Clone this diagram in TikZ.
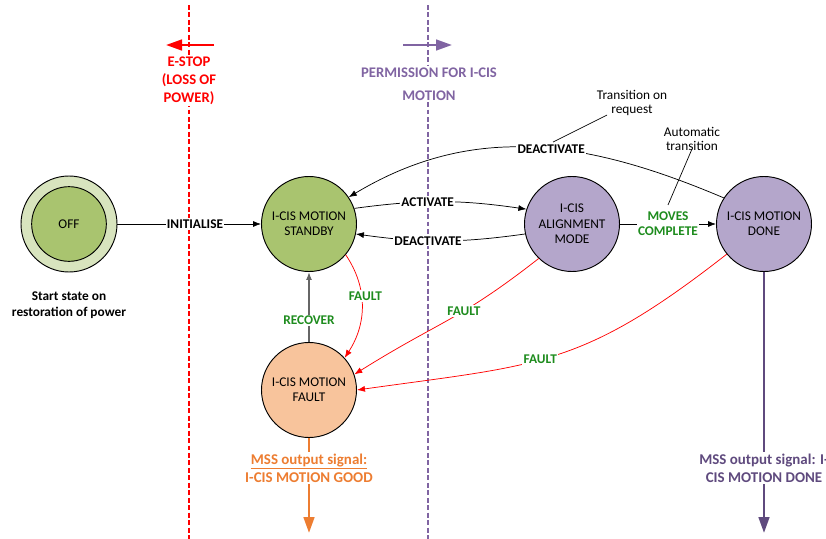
\documentclass[tikz,border=0pt]{standalone}
\usepackage{fontspec}
\setmainfont{Carlito}
\usetikzlibrary{arrows.meta}
\definecolor{gfill}{HTML}{A9C46F}
\definecolor{gouter}{HTML}{D8E4BE}
\definecolor{pfill}{HTML}{B4A6CB}
\definecolor{ofill}{HTML}{F8C49C}
\definecolor{lblgreen}{HTML}{1E8C1E}
\definecolor{purp}{HTML}{8064A2}
\definecolor{dpurp}{HTML}{5F4A7E}
\definecolor{orng}{HTML}{ED7D31}
\definecolor{redc}{HTML}{FF0000}
\begin{document}
\begin{tikzpicture}[x=0.75pt,y=0.75pt,
  state/.style={circle,draw=black,line width=0.7pt,minimum size=71.25pt,inner sep=0pt,align=center,font=\fontsize{10}{11.5}\selectfont},
  lbl/.style={font=\bfseries\fontsize{10}{11}\selectfont,fill=white,inner sep=1pt,align=center},
  glbl/.style={lbl,text=lblgreen},
  arr/.style={-{Latex[length=6pt,width=4.5pt]},line width=0.55pt},
  farr/.style={arr,draw=redc},
  note/.style={font=\fontsize{10}{10.5}\selectfont,align=center,inner sep=0.5pt},
  vdash/.style={line width=2.2pt,dash pattern=on 3.7pt off 1.9pt},
  bigtip/.style={-{Triangle[length=12pt,width=8pt]}},
  biglbl/.style={lbl,font=\bfseries\fontsize{11.2}{13.5}\selectfont}]
\useasboundingbox (0,0) rectangle (826,-539);
% boundary lines
\draw[vdash,redc] (189,-5) -- (189,-539);
\draw[vdash,purp,line width=1.9pt] (428,-5) -- (428,-539);
\draw[bigtip,redc,line width=1.9pt] (214,-45) -- (166,-45);
\draw[bigtip,purp,line width=1.9pt] (403,-45) -- (452,-45);
\node[biglbl,text=redc,font=\bfseries\fontsize{11}{13.5}\selectfont] (estop) at (189,-81) {E-STOP\\(LOSS OF\\POWER)};
\node[biglbl,text=purp,font=\bfseries\fontsize{11}{17}\selectfont] (perm) at (429,-84) {PERMISSION FOR I-CIS\\MOTION};
% states
\node[state,fill=gouter,minimum size=72pt] (offo) at (69,-224) {};
\node[state,fill=gfill,minimum size=56pt] (off) at (69,-224) {OFF};
\node[state,fill=gfill] (sb) at (309,-224) {I-CIS MOTION\\STANDBY};
\node[state,fill=pfill] (al) at (572,-224) {I-CIS\\ALIGNMENT\\MODE};
\node[state,fill=pfill] (do) at (764,-224) {I-CIS MOTION\\DONE};
\node[state,fill=ofill] (fa) at (309,-390) {I-CIS MOTION\\FAULT};
\node[lbl,font=\bfseries\fontsize{10}{12}\selectfont] (st) at (69,-305) {Start state on\\restoration of power};
% transitions
\draw[arr] (offo) -- node[lbl,pos=0.54]{INITIALISE} (sb);
\draw[arr] (sb.19) to[bend left=8] node[lbl,pos=0.42]{ACTIVATE} (al.162);
\draw[arr] (al.192) to[bend left=8] node[lbl,pos=0.58]{DEACTIVATE} (sb.348);
\draw[arr] (do.147) to[out=157,in=31] node[lbl,pos=0.45]{DEACTIVATE} (sb.34);
\draw[arr] (al) -- node[glbl]{MOVES\\COMPLETE} (do);
\draw[arr,draw=black!60,line width=1pt] (fa) -- node[glbl,pos=0.31]{RECOVER} (sb);
\draw[farr] (sb.-40) to[out=-56,in=57] node[glbl,pos=0.4,xshift=3pt]{FAULT} (fa.42);
\draw[farr] (al.226) to[out=218,in=32,looseness=1.2] node[glbl,pos=0.4]{FAULT} (fa.19);
\draw[farr] (do.219) to[out=218,in=8,looseness=1.2] node[glbl,pos=0.55]{FAULT} (fa.east);
% notes
\node[note] (treq) at (632,-103) {Transition on\\request};
\coordinate (treqa) at (607,-115);
\coordinate (treqb) at (553,-142);
\draw[line width=0.5pt] (treqa) -- (treqb);
\node[note] (auto) at (692,-139) {Automatic\\transition};
\coordinate (autoa) at (692,-149);
\coordinate (autob) at (668,-205);
\draw[line width=0.5pt] (autoa) -- (autob);
% outputs
\coordinate (faout) at (309,-533);
\draw[bigtip,orng,line width=2pt] (fa) -- (faout);
\node[biglbl,text=orng] (gd) at (309,-468) {\underline{MSS output signal:}\\I-CIS MOTION GOOD};
\coordinate (doout) at (764,-533);
\draw[bigtip,dpurp,line width=2pt] (do) -- (doout);
\node[biglbl,text=dpurp] (dn) at (764,-468) {MSS output signal: I-\\CIS MOTION DONE};
\end{tikzpicture}
\end{document}
